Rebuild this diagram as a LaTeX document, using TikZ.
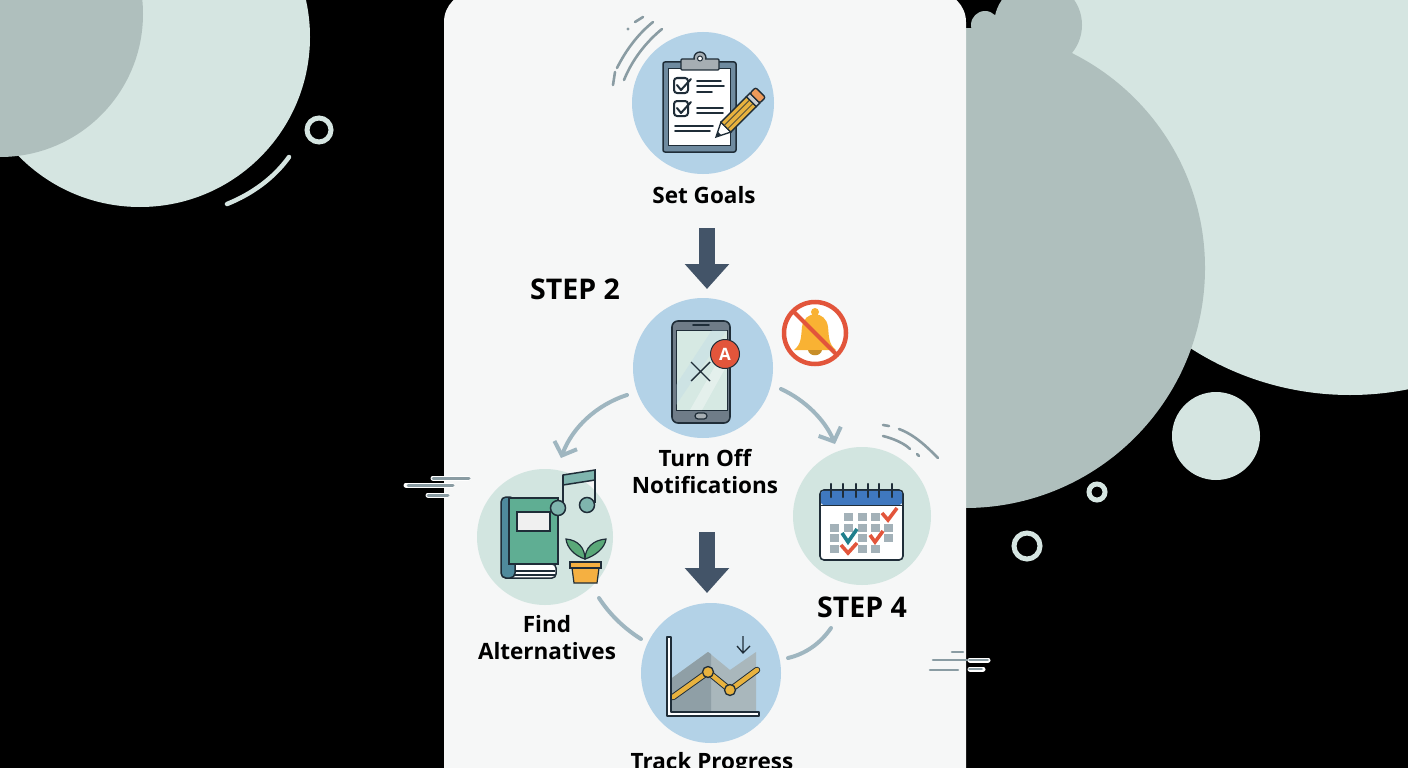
\documentclass[tikz,border=0pt]{standalone}
\usepackage{fontspec}
\setmainfont{Open Sans}
\usetikzlibrary{arrows.meta}
\definecolor{cardc}{HTML}{F6F7F7}
\definecolor{pale}{HTML}{D5E5E1}
\definecolor{slate}{HTML}{AFBFBD}
\definecolor{bluec}{HTML}{B3D2E7}
\definecolor{mint}{HTML}{D2E5E0}
\definecolor{navy}{HTML}{435468}
\definecolor{flow}{HTML}{9FB6C0}
\definecolor{ink}{HTML}{1F2D38}
\definecolor{motion}{HTML}{8A9CA3}
\definecolor{redc}{HTML}{E2553B}
\definecolor{amber}{HTML}{F9B233}
\definecolor{pencil}{HTML}{E8B23E}
\definecolor{boardc}{HTML}{6F8BA0}
\definecolor{clipc}{HTML}{A6AEB3}
\definecolor{phonec}{HTML}{6F7C88}
\definecolor{screenc}{HTML}{D6E9E3}
\definecolor{coverc}{HTML}{5FAE93}
\definecolor{spinec}{HTML}{4F8A9C}
\definecolor{notec}{HTML}{7FB5AE}
\definecolor{leafc}{HTML}{5AA878}
\definecolor{potc}{HTML}{F5B041}
\definecolor{calblue}{HTML}{3F78BF}
\definecolor{cellc}{HTML}{A3B1B8}
\definecolor{tealc}{HTML}{1F7F8C}
\definecolor{arealight}{HTML}{A9B7BC}
\definecolor{areadark}{HTML}{8F9FA6}
\definecolor{eraser}{HTML}{EE9A5A}
\tikzset{
 iconcirc/.style={circle,draw=none,inner sep=0pt,minimum size=#1},
 lab/.style={font=\bfseries\fontsize{22.5}{27}\selectfont,text=black,align=center,inner sep=0pt},
 biglab/.style={font=\bfseries\fontsize{28.5}{32}\selectfont,text=black,inner sep=0pt},
 bigarrow/.style={draw=navy,line width=16pt,-{Triangle[width=43pt,length=25pt]}},
 flowarrow/.style={draw=flow,line width=4pt,line cap=round,-{Straight Barb[length=11pt,width=24pt,line width=4pt]}},
 flowline/.style={draw=flow,line width=4pt,line cap=round},
 motionline/.style={draw=motion,line width=2.6pt,line cap=round},
 iline/.style={draw=ink,line width=2pt,line cap=round,line join=round},
 ring/.style={draw=pale,line width=5pt,fill=none},
}
\begin{document}
\begin{tikzpicture}[x=1pt,y=-1pt]
\useasboundingbox (0,0) rectangle (1408,768);
\clip (0,0) rectangle (1408,768);
\fill[black] (0,0) rectangle (1408,768);
% backdrop
\fill[pale] (140,37) circle[radius=170];
\fill[slate] (0,14) circle[radius=143];
\fill[pale] (1350,100) circle[radius=295];
\fill[slate] (965,268) circle[radius=240];
\fill[slate] (1038,25) circle[radius=44];
\fill[slate] (985,25) circle[radius=14];
\fill[pale] (1216,436) circle[radius=44];
\draw[ring] (319,130) circle[radius=12];
\draw[ring] (1097,492) circle[radius=8];
\draw[ring] (1027,546) circle[radius=13];
\draw[pale,line width=4.5pt,line cap=round] (227,204) .. controls (252,194) and (274,178) .. (289,157);
% card
\fill[cardc,rounded corners=30pt] (444,-8) rectangle (966,800);
% speed lines on the left
\draw[white,line width=5pt,line cap=round] (433,478) -- (468,478) (406,485) -- (452,485) (428,495) -- (447,495);
\draw[motion,line width=3pt,line cap=round] (433,478) -- (469,478) (408,485) -- (453,485) (428,495) -- (448,495);
% speed lines on the right
\draw[motionline] (952,652) -- (963,652) (933,660) -- (967,660) (930,670) -- (958,670);
\draw[white,line width=5pt,line cap=round] (970,660) -- (988,660) (970,669) -- (983,669);
\draw[motion,line width=1.5pt,line cap=round] (969,660) -- (988,660) (969,669) -- (982,669);
% step circles
\node[iconcirc=142pt,fill=bluec] (goals) at (703,103) {};
\node[iconcirc=140pt,fill=bluec] (notif) at (703,368) {};
\node[iconcirc=136pt,fill=mint] (alt) at (545,537) {};
\node[iconcirc=138pt,fill=mint] (cal) at (862,516) {};
\node[iconcirc=140pt,fill=bluec] (track) at (711,673) {};
% labels
\node[lab] (lgoals) at (704,195) {Set Goals};
\node[biglab] (lstep2) at (575,289) {STEP 2};
\node[lab] (lnotif) at (705,471) {Turn Off\\Notifications};
\node[lab] (lalt) at (547,638) {Find\\Alternatives};
\node[biglab] (lstep4) at (862,607) {STEP 4};
\node[lab] (ltrack) at (712,764) {Track Progress};
% main arrows
\coordinate (a1s) at (707,228); \coordinate (a1e) at (707,289);
\coordinate (a2s) at (707,532); \coordinate (a2e) at (707,593);
\draw[bigarrow] (a1s) -- (a1e);
\draw[bigarrow] (a2s) -- (a2e);
% flow arcs
\coordinate (f1s) at (627,395); \coordinate (f1e) at (561,458);
\coordinate (f2s) at (781,389); \coordinate (f2e) at (835,444);
\coordinate (f3s) at (599,598); \coordinate (f3e) at (641,639);
\coordinate (f4s) at (831,628); \coordinate (f4e) at (788,658);
\draw[flowarrow] (f1s) .. controls (596,405) and (572,428) .. (f1e);
\draw[flowarrow] (f2s) .. controls (805,400) and (825,420) .. (f2e);
\draw[flowline] (f3s) .. controls (610,615) and (625,629) .. (f3e);
\draw[flowline] (f4s) .. controls (820,644) and (805,654) .. (f4e);
% motion marks top
\draw[motionline] (613,85) -- (615,72);
\draw[motionline] (617,68) .. controls (626,50) and (638,34) .. (653,22);
\draw[motionline] (624,80) .. controls (632,60) and (646,42) .. (662,29);
\draw[motionline] (635,22) -- (643,17);
\fill[motion] (628,29) circle[radius=1.6];
% motion marks calendar
\draw[motionline] (883,425) -- (889,426);
\draw[motionline] (899,429) .. controls (915,435) and (927,447) .. (938,458);
\draw[motionline] (883,436) .. controls (895,439) and (905,444) .. (910,449);
\draw[motionline] (917,454) -- (919,456);
% clipboard
\fill[boardc,draw=ink,line width=1.5pt,rounded corners=2pt] (663,62) rectangle (736,152);
\fill[white,draw=ink,line width=.8pt] (668,68) rectangle (730,145);
\fill[clipc,draw=ink,line width=1.3pt] (700,58) circle[radius=6];
\fill[clipc,draw=ink,line width=1.3pt,rounded corners=1pt] (681,59) rectangle (719,70);
\fill[clipc] (695,58) rectangle (705,61);
\fill[white,draw=ink,line width=1pt] (700,58.5) circle[radius=2.5];
\foreach \yy in {85,108}{
 \draw[iline,rounded corners=3pt] (674,\yy-7) rectangle (688,\yy+8);
 \draw[iline] (677,\yy) -- (681,\yy+5) -- (691,\yy-6);
}
\draw[iline,line width=1.6pt] (697,81) -- (721,81) (697,86) -- (724,86) (697,92) -- (712,92);
\draw[iline,line width=1.6pt] (697,108) -- (723,108) (697,113) -- (723,113);
\draw[iline,line width=1.6pt] (675,126) -- (713,126) (675,131) -- (710,131);
% pencil
\begin{scope}[shift={(716,137)},rotate=45]
 \fill[white,draw=ink,line width=1.3pt] (0,0) -- (14,-7) -- (14,7) -- cycle;
 \fill[ink] (0,0) -- (5,-2.5) -- (5,2.5) -- cycle;
 \fill[pencil,draw=ink,line width=1.3pt] (14,-7) rectangle (50,7);
 \draw[ink!70!pencil,line width=.9pt] (14,-2.4) -- (50,-2.4) (14,2.4) -- (50,2.4);
 \fill[clipc!60!white,draw=ink,line width=1.3pt] (50,-7) rectangle (55,7);
 \fill[eraser,draw=ink,line width=1.3pt,rounded corners=2pt] (55,-7) rectangle (63,7);
\end{scope}
% phone
\fill[phonec,draw=ink,line width=1.6pt,rounded corners=6pt] (672,321) rectangle (730,423);
\fill[screenc,draw=ink,line width=1pt] (676,330) rectangle (727,410);
\fill[white,opacity=.35] (690,410) -- (727,345) -- (727,365) -- (702,410) -- cycle;
\fill[bluec,opacity=.25] (676,385) -- (712,330) -- (727,330) -- (676,405) -- cycle;
\draw[ink,line width=1.6pt,line cap=round] (693,325) -- (709,325);
\draw[ink,line width=1.2pt,fill=clipc,rounded corners=3pt] (695,413) rectangle (707,419);
\draw[ink,line width=1.4pt] (691,362) -- (710,381) (710,362) -- (691,381);
\node[circle,fill=redc,draw=ink,line width=1pt,minimum size=29pt,inner sep=0pt,font=\bfseries\fontsize{17}{17}\selectfont,text=white] (badge) at (725,354) {A};
% muted bell
\fill[white] (815,333) circle[radius=32];
\fill[amber] (815,312) circle[radius=4];
\fill[amber] (794,350) .. controls (802,344) and (801,335) .. (802,327) .. controls (804,310) and (826,310) .. (828,327) .. controls (829,335) and (828,344) .. (836,350) -- cycle;
\fill[amber!80!black] (808,350) .. controls (809,357) and (821,357) .. (822,350) -- cycle;
\draw[redc,line width=4.5pt] (815,333) circle[radius=31];
\draw[redc,line width=4pt] (793,311) -- (837,355);
% book
\fill[white,draw=ink,line width=1.5pt,rounded corners=4pt] (502,564) rectangle (556,578);
\draw[ink,line width=1.2pt] (511,571) -- (555,571) (511,575) -- (555,575);
\fill[spinec,draw=ink,line width=1.5pt,rounded corners=5pt] (501,497) rectangle (515,578);
\fill[coverc,draw=ink,line width=1.5pt] (509,498) rectangle (558,564);
\fill[white!88!gray,draw=ink,line width=1.2pt] (517,512) rectangle (550,531);
% note
\draw[ink,fill=notec,line width=1.5pt] (563,475) -- (595,470) -- (595,480) -- (563,485) -- cycle;
\draw[ink,line width=1.8pt] (563,475) -- (563,505) (595,470) -- (595,503);
\fill[notec,draw=ink,line width=1.5pt] (558,508) circle[radius=7.5];
\fill[notec,draw=ink,line width=1.5pt] (587,505) circle[radius=7.5];
% plant
\fill[leafc,draw=ink,line width=1.2pt] (585,559) .. controls (575,556) and (567,548) .. (566,539) .. controls (578,540) and (585,548) .. (585,559) -- cycle;
\fill[leafc,draw=ink,line width=1.2pt] (585,559) .. controls (595,556) and (605,548) .. (606,539) .. controls (593,540) and (585,548) .. (585,559) -- cycle;
\fill[potc,draw=ink,line width=1.2pt] (572,568) -- (599,568) -- (597,583) -- (574,583) -- cycle;
\fill[potc,draw=ink,line width=1.2pt] (570,562) rectangle (601,568);
% calendar
\fill[white,draw=ink,line width=1.6pt,rounded corners=4pt] (820,490) rectangle (903,560);
\fill[calblue,rounded corners=3pt] (820.8,490.8) rectangle (902.2,505);
\draw[ink,line width=1pt] (820,505) -- (903,505);
\foreach \xx in {831,843,856,868,879,892}{\draw[ink,line width=2.4pt,line cap=round] (\xx,484) -- (\xx,497);}
\foreach \xx/\yy in {844/513,858/513,871/513,830/524,844/524,858/524,871/524,884/524,830/534,858/534,884/534,830/545,858/545,871/545}{
 \fill[cellc] (\xx,\yy) rectangle ++(9,7.5);}
\draw[redc,line width=3.6pt] (882,513) -- (888,520) -- (897,508);
\draw[redc,line width=3.6pt] (870,535) -- (875,542) -- (883,531);
\draw[redc,line width=3.6pt] (841,545) -- (848,553) -- (857,543);
\draw[tealc,line width=3.6pt] (842,533) -- (848,542) -- (857,529);
% chart
\fill[arealight] (672,678) -- (708,652) -- (730,670) -- (756,652) -- (756,712) -- (672,712) -- cycle;
\fill[areadark] (672,678) -- (708,652) -- (711,654) -- (711,712) -- (672,712) -- cycle;
\draw[ink,line width=6.5pt,line join=round,line cap=round] (673,697) -- (708,672) -- (730,690) -- (757,670);
\draw[pencil,line width=4.6pt,line join=round,line cap=round] (673,697) -- (708,672) -- (730,690) -- (757,670);
\fill[pencil,draw=ink,line width=1.3pt] (708,672) circle[radius=5.5];
\fill[pencil,draw=ink,line width=1.3pt] (730,690) circle[radius=5.5];
\draw[white,line width=4.5pt] (669,637) -- (669,714) -- (758,714);
\draw[ink,line width=1.3pt,line join=round] (667,637) -- (671,637) -- (671,712) -- (759,712) -- (759,716) -- (667,716) -- cycle;
\draw[ink,line width=1.3pt] (743,636) -- (743,653) (737,646) -- (743,653) -- (750,646);
\end{tikzpicture}
\end{document}
